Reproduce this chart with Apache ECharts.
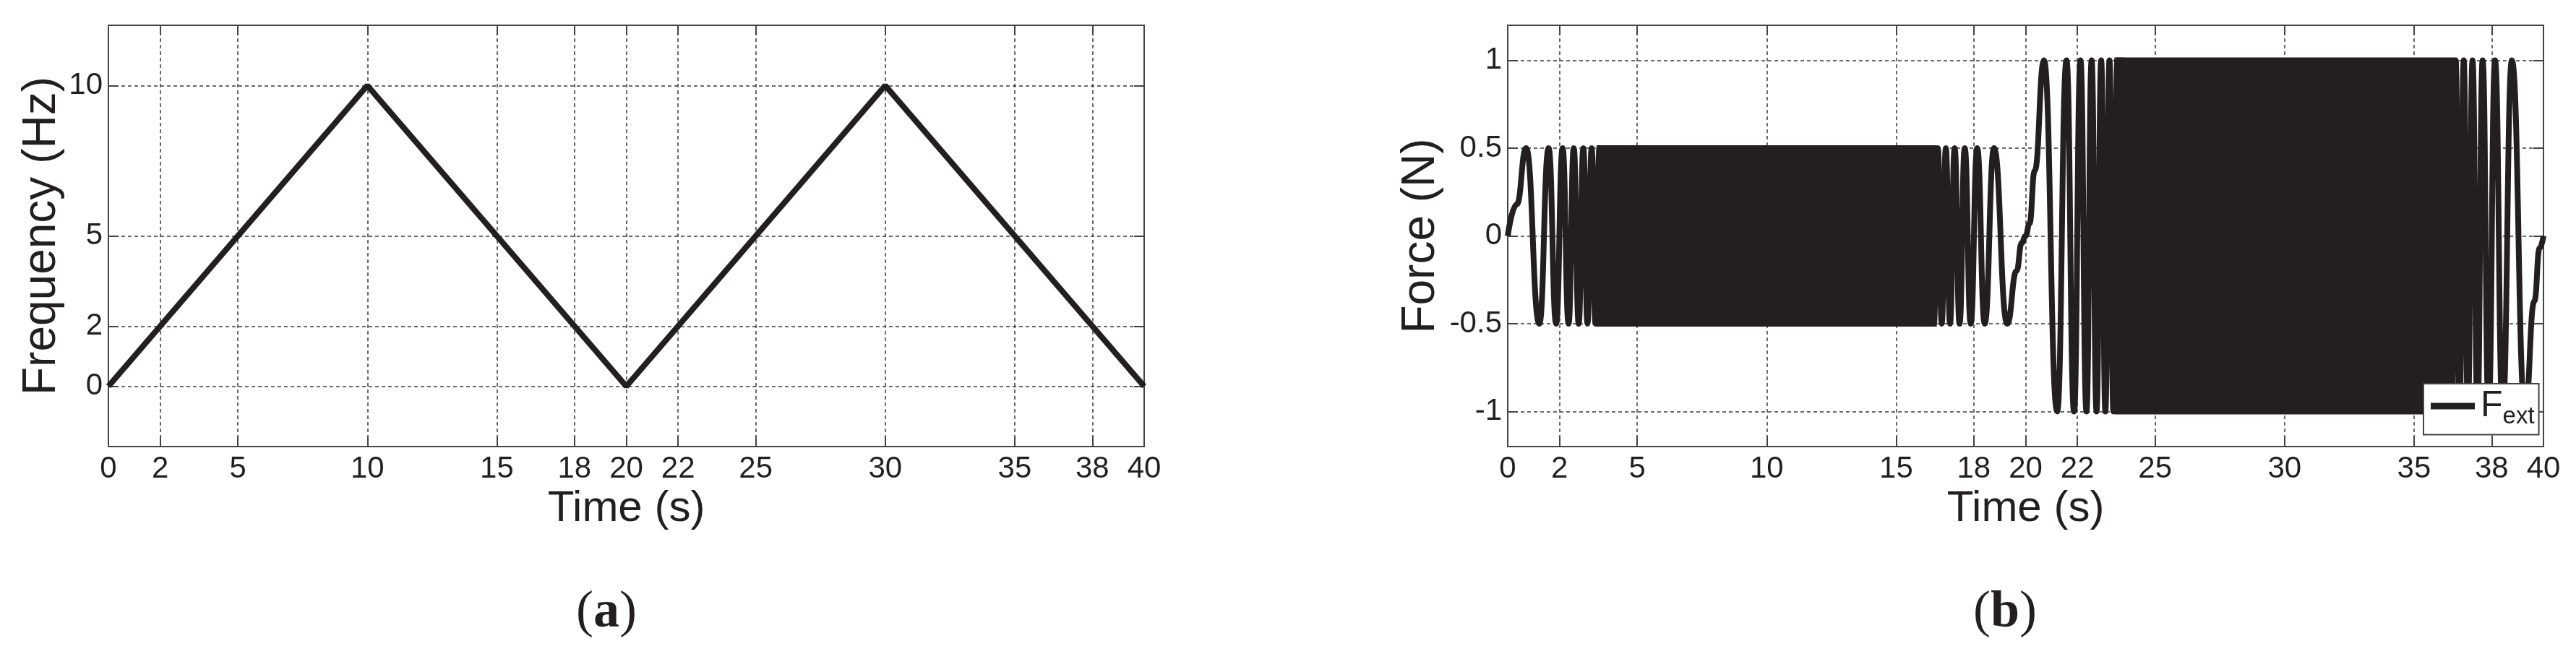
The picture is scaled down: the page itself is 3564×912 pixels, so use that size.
<!DOCTYPE html>
<html>
<head>
<meta charset="utf-8">
<script src="https://cdn.jsdelivr.net/npm/echarts@6/dist/echarts.min.js"></script>
<style>
html, body { margin: 0; padding: 0; background: #fff; }
#main { width: 3564px; height: 912px; }
</style>
</head>
<body>
<div id="main"></div>
<script>
// shared time ticks
var timeTicks = [0, 2, 5, 10, 15, 18, 20, 22, 25, 30, 35, 38, 40];

// (a) excitation frequency
var freqTime = [0, 10, 20, 30, 40];
var freqHz = [0, 10, 0, 10, 0];
var freqTicks = [0, 2, 5, 10];

// (b) external force, peaks read where the sweep is slow
var forceTime = [
  0, 0.35, 0.71, 1.22, 1.58, 1.87, 2.12, 2.35, 2.55, 2.74, 2.92, 3.08, 3.24, 3.39, 3.54,
  16.46, 16.61, 16.76, 16.92, 17.08, 17.26, 17.45, 17.65, 17.88, 18.13, 18.42, 18.78, 19.29, 19.65, 19.85, 20,
  20.15, 20.35, 20.71, 21.22, 21.58, 21.87, 22.12, 22.35, 22.55, 22.74, 22.92, 23.08, 23.24, 23.39, 23.54,
  36.46, 36.61, 36.76, 36.92, 37.08, 37.26, 37.45, 37.65, 37.88, 38.13, 38.42, 38.78, 39.29, 39.65, 39.85, 40
];
var forceN = [
  0, 0.18, 0.5, -0.5, 0.5, -0.5, 0.5, -0.5, 0.5, -0.5, 0.5, -0.5, 0.5, -0.5, 0.5,
  -0.5, 0.5, -0.5, 0.5, -0.5, 0.5, -0.5, 0.5, -0.5, 0.5, -0.5, 0.5, -0.5, -0.2, -0.04, 0,
  0.07, 0.37, 1, -1, 1, -1, 1, -1, 1, -1, 1, -1, 1, -1, 1,
  -1, 1, -1, 1, -1, 1, -1, 1, -1, 1, -1, 1, -1, -0.37, -0.07, 0
];
// (b) stretches where the oscillation is too fast to resolve
var denseStart = [3.54, 23.54];
var denseEnd = [16.46, 36.46];
var denseAmp = [0.5, 1];
var forceTicks = [-1, -0.5, 0, 0.5, 1];

var ink = '#231f20';
var frame = '#444';
var sans = '"Liberation Sans", Arial, sans-serif';
var serif = '"Liberation Serif", "DejaVu Serif", serif';

function zip(a, b) {
  return a.map(function (v, i) { return [v, b[i]]; });
}

function grid(left) {
  return { left: left, top: 35, width: 1433, height: 583, show: true,
    borderColor: frame, borderWidth: 2 };
}

var dashed = { show: true, lineStyle: { color: '#3a3a3a', width: 1.5, type: [5, 4] } };

function timeAxes(gi) {
  return [{
    type: 'value', gridIndex: gi, min: 0, max: 40, position: 'bottom',
    name: 'Time (s)', nameLocation: 'middle', nameGap: 46,
    nameTextStyle: { fontFamily: sans, fontSize: 60, color: ink },
    axisLine: { onZero: false, lineStyle: { color: frame, width: 2 } },
    axisTick: { inside: true, length: 14, customValues: timeTicks, lineStyle: { color: frame, width: 2 } },
    axisLabel: { customValues: timeTicks, margin: 10, fontFamily: sans, fontSize: 42, color: ink },
    splitLine: dashed
  }, {
    type: 'value', gridIndex: gi, min: 0, max: 40, position: 'top',
    axisLine: { onZero: false, lineStyle: { color: frame, width: 2 } },
    axisTick: { inside: true, length: 14, customValues: timeTicks, lineStyle: { color: frame, width: 2 } },
    axisLabel: { show: false }, splitLine: { show: false }
  }];
}

function valueAxes(gi, min, max, ticks, name, gap) {
  return [{
    type: 'value', gridIndex: gi, min: min, max: max, position: 'left',
    name: name, nameLocation: 'middle', nameGap: gap,
    nameTextStyle: { fontFamily: sans, fontSize: 64, color: ink },
    axisLine: { show: true, onZero: false, lineStyle: { color: frame, width: 2 } },
    axisTick: { show: true, inside: true, length: 14, customValues: ticks, lineStyle: { color: frame, width: 2 } },
    axisLabel: { customValues: ticks, margin: 8, fontFamily: sans, fontSize: 42, color: ink },
    splitLine: dashed
  }, {
    type: 'value', gridIndex: gi, min: min, max: max, position: 'right',
    axisLine: { show: true, onZero: false, lineStyle: { color: frame, width: 2 } },
    axisTick: { show: true, inside: true, length: 14, customValues: ticks, lineStyle: { color: frame, width: 2 } },
    axisLabel: { show: false }, splitLine: { show: false }
  }];
}

var bands = denseStart.map(function (s, i) {
  return [{ xAxis: s, yAxis: -denseAmp[i] }, { xAxis: denseEnd[i], yAxis: denseAmp[i] }];
});

var chart = echarts.init(document.getElementById('main'));
chart.setOption({
  animation: false,
  backgroundColor: '#fff',
  grid: [grid(150), grid(2086)],
  xAxis: timeAxes(0).concat(timeAxes(1)),
  yAxis: valueAxes(0, -2, 12, freqTicks, 'Frequency (Hz)', 60)
    .concat(valueAxes(1, -1.2, 1.2, forceTicks, 'Force (N)', 88)),
  legend: {
    data: ['F_ext'],
    left: 3353, top: 531,
    backgroundColor: '#fff', borderColor: frame, borderWidth: 2,
    padding: [6, 6, 8, 10],
    icon: 'rect', itemWidth: 61, itemHeight: 9,
    formatter: function () { return '{f|F}{s|ext}'; },
    textStyle: {
      color: ink,
      rich: {
        f: { fontFamily: sans, fontSize: 50, color: ink, padding: [0, 0, 0, 3] },
        s: { fontFamily: sans, fontSize: 33, color: ink, padding: [30, 0, 0, 0] }
      }
    }
  },
  graphic: [
    { type: 'text', x: 839, y: 848, style: { text: '({b|a})', align: 'center', verticalAlign: 'middle',
      font: '72px ' + serif, fill: ink, rich: { b: { font: 'bold 72px ' + serif, fill: ink } } } },
    { type: 'text', x: 2774, y: 848, style: { text: '({b|b})', align: 'center', verticalAlign: 'middle',
      font: '72px ' + serif, fill: ink, rich: { b: { font: 'bold 72px ' + serif, fill: ink } } } }
  ],
  series: [{
    type: 'line', xAxisIndex: 0, yAxisIndex: 0,
    data: zip(freqTime, freqHz), showSymbol: false, symbol: 'none',
    lineStyle: { color: ink, width: 8 }
  }, {
    name: 'F_ext', type: 'line', xAxisIndex: 2, yAxisIndex: 2,
    data: zip(forceTime, forceN), showSymbol: false, symbol: 'none',
    smooth: 0.5, smoothMonotone: 'x',
    itemStyle: { color: ink },
    lineStyle: { color: ink, width: 8 },
    markArea: {
      silent: true,
      itemStyle: { color: ink, borderColor: ink, borderWidth: 8 },
      data: bands
    }
  }]
});
</script>
</body>
</html>
